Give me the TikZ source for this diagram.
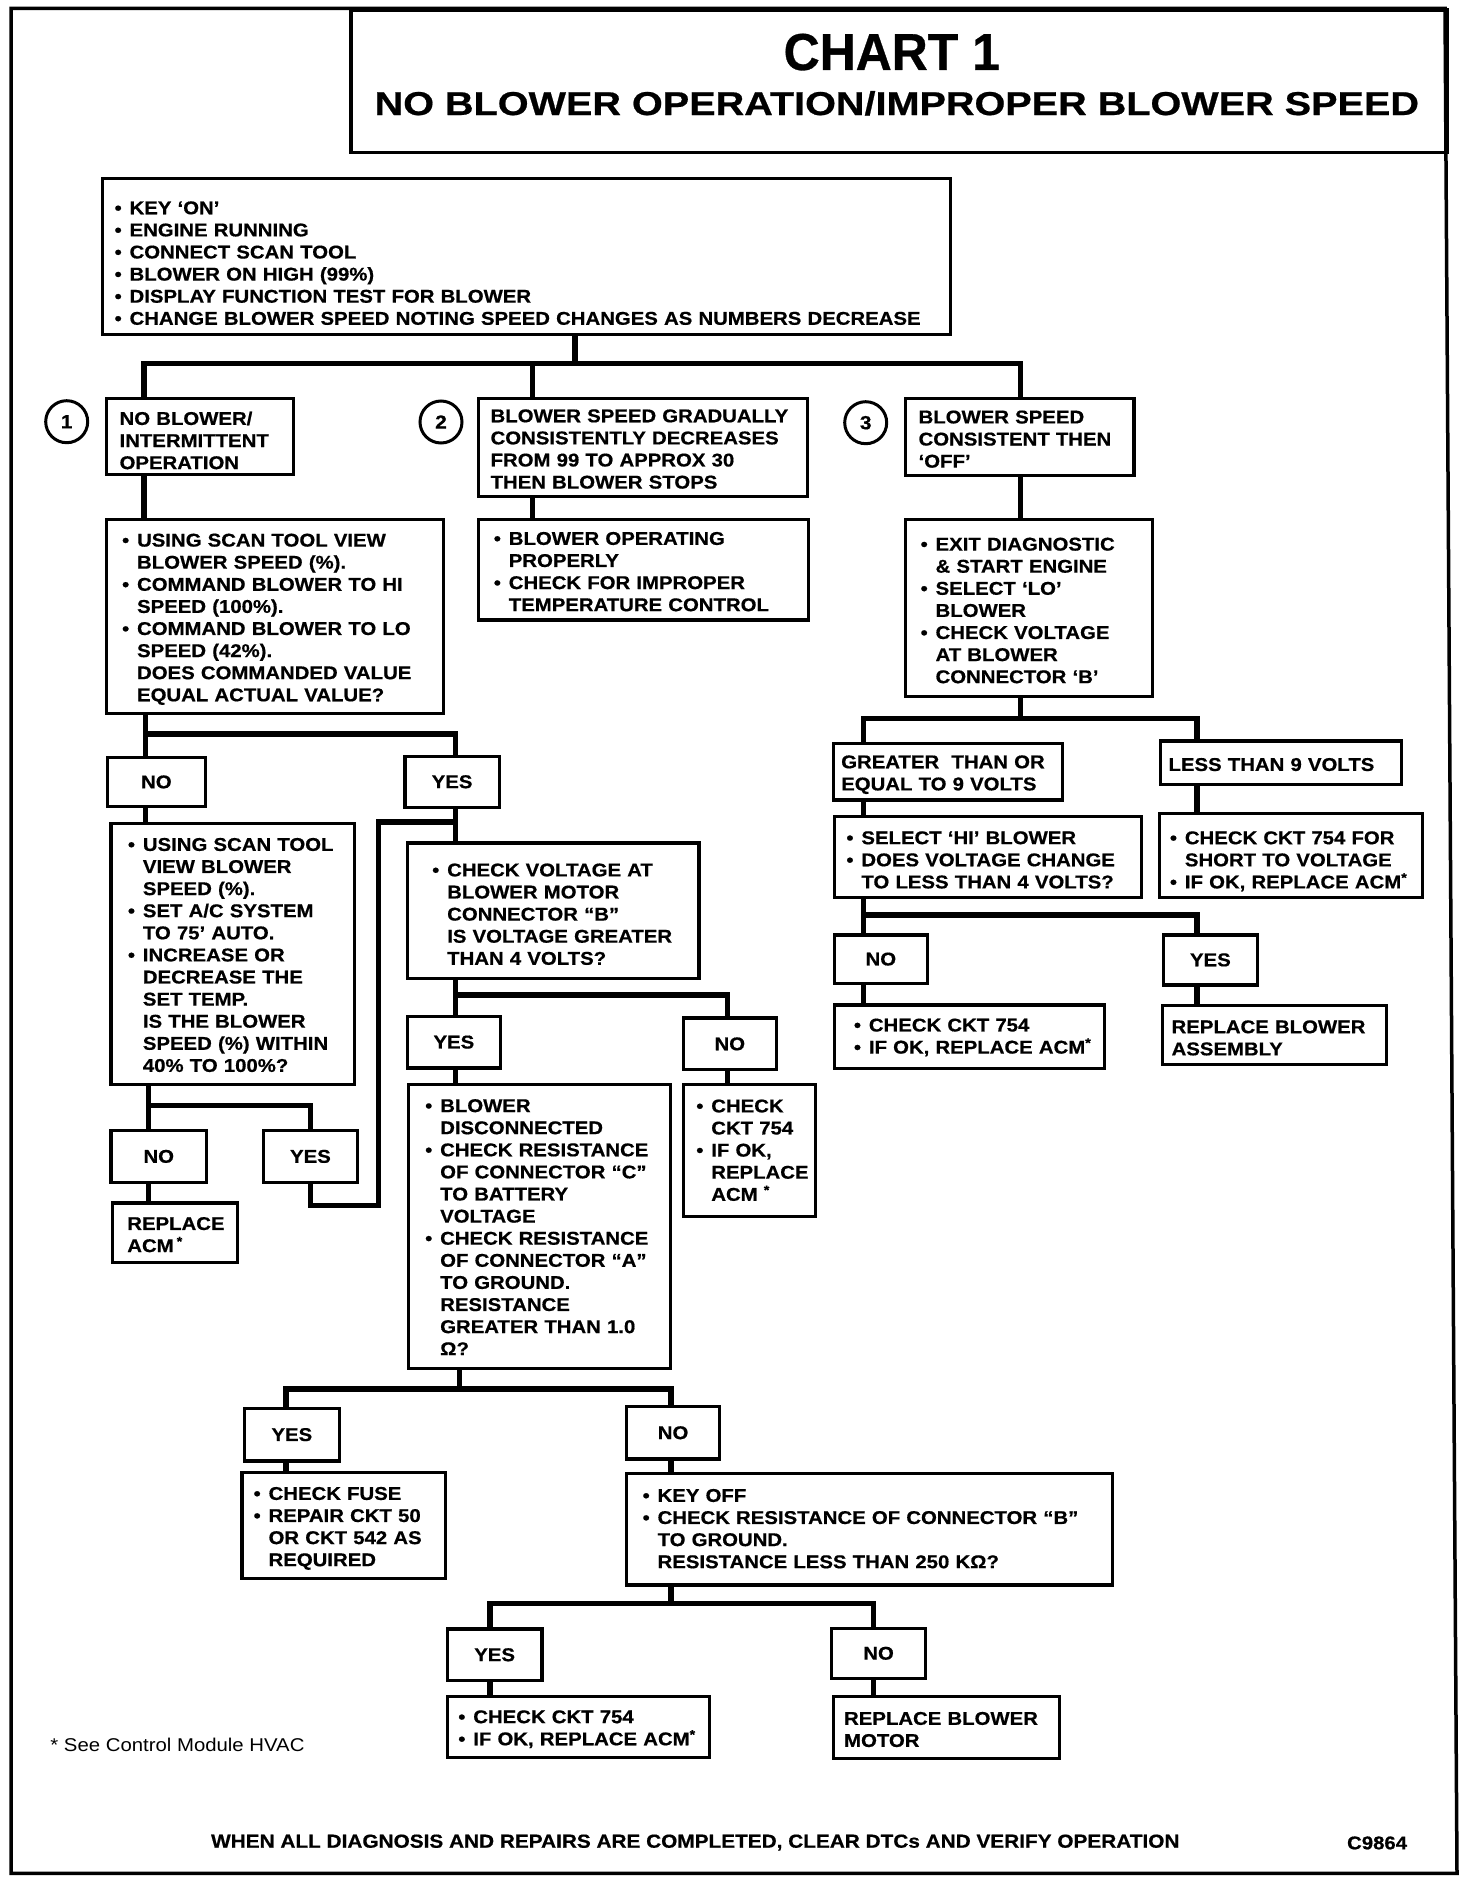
\documentclass[tikz,border=0pt]{standalone}
\usepackage{fontspec}
\setmainfont{Liberation Sans}[FakeStretch=1.1, BoldFeatures={FakeBold=0.6}]
\newfontfamily\chartfont{Liberation Sans}[FakeStretch=0.96, BoldFeatures={FakeBold=0.6}]
\newfontfamily\subfont{Liberation Sans}[FakeStretch=1.2, BoldFeatures={FakeBold=0.6}]
\newcommand\bodyfont{\bfseries\fontsize{18.5}{22.1}\selectfont}
\newcommand\bu{\makebox[15pt][l]{\textbullet}}
\newcommand\dnbox[2]{\raisebox{-#1pt}[\height][\depth]{#2}}
\newcommand\blk[2][4]{\dnbox{#1}{\begin{tabular}{@{}l@{}l@{}}#2\end{tabular}}}
\newcommand\pblk[2][4]{\dnbox{#1}{\begin{tabular}{@{}l@{}}#2\end{tabular}}}
\newcommand\sast{\textsuperscript{*}}
\tikzset{
  box/.style={draw, line width=3.2pt, rectangle, anchor=north west, inner ysep=0pt, align=left, font=\bodyfont},
  yn/.style={draw, line width=3.2pt, rectangle, anchor=north west, inner sep=0pt, align=center, font=\bodyfont},
  conn/.style={line width=5.5pt},
  num/.style={draw, circle, line width=3pt, minimum size=42pt, inner sep=0pt, font=\bfseries\fontsize{19}{19}\selectfont},
}
\begin{document}
\begin{tikzpicture}[x=1pt,y=-1pt]
\useasboundingbox (0,0) rectangle (1472,1884);
\fill[white] (0,0) rectangle (1472,1884);
% frame and title
\draw[line width=3.5pt] (11,8.5) -- (1445,8.5) -- (1457,1873.3) -- (11,1873.3) -- cycle;
\node[draw, line width=3.5pt, anchor=north west, minimum width=1096pt, minimum height=142.2pt, inner sep=0pt] (titlebox) at (349.2,8.5) {};
\node[anchor=base, font=\chartfont\bfseries\fontsize{52}{52}\selectfont] (chart) at (891.8,70) {CHART 1};
\node[anchor=base, font=\subfont\bfseries\fontsize{33}{33}\selectfont] (subtitle) at (896.8,115) {NO BLOWER OPERATION/IMPROPER BLOWER SPEED};

% boxes
\node[box, inner xsep=12pt, text width=824pt, minimum height=156pt] (start) at (101,177) {\blk[8.5]{\bu&KEY `ON'\\ \bu&ENGINE RUNNING\\ \bu&CONNECT SCAN TOOL\\ \bu&BLOWER ON HIGH (99\%)\\ \bu&DISPLAY FUNCTION TEST FOR BLOWER\\ \bu&CHANGE BLOWER SPEED NOTING SPEED CHANGES AS NUMBERS DECREASE}};

\node[num] (c1) at (66.7,421.7) {1};
\node[num] (c2) at (441,422) {2};
\node[num] (c3) at (865.7,422.7) {3};

\node[box, inner xsep=13pt, text width=161pt, minimum height=76pt] (b1) at (105,397) {\pblk[6]{NO BLOWER/\\INTERMITTENT\\OPERATION}};
\node[box, inner xsep=12pt, text width=305pt, minimum height=98pt] (b2) at (477,397) {\pblk[3.4]{BLOWER SPEED GRADUALLY\\CONSISTENTLY DECREASES\\FROM 99 TO APPROX 30\\THEN BLOWER STOPS}};
\node[box, inner xsep=13pt, text width=202.3pt, minimum height=77pt] (b3) at (904,397) {\pblk[4]{BLOWER SPEED\\CONSISTENT THEN\\`OFF'}};

\node[box, inner xsep=15.5pt, text width=305.7pt, minimum height=194pt] (b1b) at (105,517.7) {\blk[3.2]{\bu&USING SCAN TOOL VIEW\\&BLOWER SPEED (\%).\\ \bu&COMMAND BLOWER TO HI\\&SPEED (100\%).\\ \bu&COMMAND BLOWER TO LO\\&SPEED (42\%).\\&DOES COMMANDED VALUE\\&EQUAL ACTUAL VALUE?}};
\node[box, inner xsep=15.5pt, text width=299pt, minimum height=100.6pt] (b2b) at (476.7,517.7) {\blk[4]{\bu&BLOWER OPERATING\\&PROPERLY\\ \bu&CHECK FOR IMPROPER\\&TEMPERATURE CONTROL}};
\node[box, inner xsep=15pt, text width=216.7pt, minimum height=177.3pt] (b3b) at (904,517.7) {\blk[4.5]{\bu&EXIT DIAGNOSTIC\\&\& START ENGINE\\ \bu&SELECT `LO'\\&BLOWER\\ \bu&CHECK VOLTAGE\\&AT BLOWER\\&CONNECTOR `B'}};

\node[yn, minimum width=97.6pt, minimum height=49.3pt] (no1) at (106,755.7) {NO};
\node[yn, minimum width=94.4pt, minimum height=51.1pt] (yes1) at (403.3,754.6) {YES};

\node[box, inner xsep=17pt, text width=209.5pt, minimum height=260.7pt] (b1c) at (109.3,821.8) {\blk[3.2]{\bu&USING SCAN TOOL\\&VIEW BLOWER\\&SPEED (\%).\\ \bu&SET A/C SYSTEM\\&TO 75' AUTO.\\ \bu&INCREASE OR\\&DECREASE THE\\&SET TEMP.\\&IS THE BLOWER\\&SPEED (\%) WITHIN\\&40\% TO 100\%?}};
\node[box, inner xsep=25pt, text width=241.7pt, minimum height=135.7pt] (b1d) at (405.6,841.4) {\blk[5.3]{\bu&CHECK VOLTAGE AT\\&BLOWER MOTOR\\&CONNECTOR ``B''\\&IS VOLTAGE GREATER\\&THAN 4 VOLTS?}};

\node[yn, minimum width=93.4pt, minimum height=51.8pt] (yes2) at (405.6,1014.6) {YES};
\node[yn, minimum width=93pt, minimum height=51.8pt] (no2) at (681.7,1016.4) {NO};

\node[box, inner xsep=17pt, text width=228.4pt, minimum height=284.2pt] (b1e) at (406.6,1082.5) {\blk[3]{\bu&BLOWER\\&DISCONNECTED\\ \bu&CHECK RESISTANCE\\&OF CONNECTOR ``C''\\&TO BATTERY\\&VOLTAGE\\ \bu&CHECK RESISTANCE\\&OF CONNECTOR ``A''\\&TO GROUND.\\&RESISTANCE\\&GREATER THAN 1.0\\&Ω?}};
\node[box, inner xsep=13pt, text width=106.1pt, minimum height=132.1pt] (b1f) at (681.7,1082.5) {\blk[2]{\bu&CHECK\\&CKT 754\\ \bu&IF OK,\\&REPLACE\\&ACM \sast}};

\node[yn, minimum width=95.7pt, minimum height=51.8pt] (no3) at (109.3,1128.9) {NO};
\node[yn, minimum width=94.3pt, minimum height=51.8pt] (yes3) at (261.7,1128.9) {YES};
\node[box, inner xsep=15pt, text width=95pt, minimum height=59.6pt] (racm) at (110.7,1201.4) {\pblk[3.8]{REPLACE\\ACM\,\sast}};

\node[yn, minimum width=95.3pt, minimum height=52.6pt] (yes4) at (242.6,1406.7) {YES};
\node[yn, minimum width=93pt, minimum height=52.3pt] (no4) at (625,1405) {NO};
\node[box, inner xsep=11.7pt, text width=179.8pt, minimum height=106pt] (fuse) at (240.3,1470.7) {\blk[3.3]{\bu&CHECK FUSE\\ \bu&REPAIR CKT 50\\&OR CKT 542 AS\\&REQUIRED}};
\node[box, inner xsep=16pt, text width=454.2pt, minimum height=111.6pt] (keyoff) at (625,1471.7) {\blk[1.5]{\bu&KEY OFF\\ \bu&CHECK RESISTANCE OF CONNECTOR ``B''\\&TO GROUND.\\&RESISTANCE LESS THAN 250 KΩ?}};

\node[yn, minimum width=94.7pt, minimum height=51.7pt] (yes5) at (445.7,1627.3) {YES};
\node[yn, minimum width=93.9pt, minimum height=50pt] (no5) at (830,1626.7) {NO};
\node[box, inner xsep=11pt, text width=240.1pt, minimum height=61pt] (ckt1) at (445.7,1695) {\blk[2.7]{\bu&CHECK CKT 754\\ \bu&IF OK, REPLACE ACM\sast}};
\node[box, inner xsep=10.5pt, text width=205.1pt, minimum height=61.7pt] (rbm) at (832,1695) {\pblk[4]{REPLACE BLOWER\\MOTOR}};

\node[box, inner xsep=8pt, text width=213.6pt, minimum height=56.6pt] (b3c) at (831.6,741.7) {\pblk[3.3]{GREATER\ \ THAN OR\\EQUAL TO 9 VOLTS}};
\node[box, inner xsep=8pt, text width=225.1pt, minimum height=43.4pt] (b3d) at (1158.9,739.3) {\pblk[3.9]{LESS THAN 9 VOLTS}};
\node[box, inner xsep=12.3pt, text width=283.1pt, minimum height=80.7pt] (b3e) at (832.5,815) {\blk[4.9]{\bu&SELECT `HI' BLOWER\\ \bu&DOES VOLTAGE CHANGE\\&TO LESS THAN 4 VOLTS?}};
\node[box, inner xsep=10.7pt, text width=241.8pt, minimum height=84pt] (b3f) at (1157.6,811.7) {\blk[6.6]{\bu&CHECK CKT 754 FOR\\&SHORT TO VOLTAGE\\ \bu&IF OK, REPLACE ACM\sast}};
\node[yn, minimum width=93.5pt, minimum height=48.4pt] (no6) at (832.5,933.3) {NO};
\node[yn, minimum width=94pt, minimum height=50pt] (yes6) at (1161.8,933.3) {YES};
\node[box, inner xsep=19.8pt, text width=230.6pt, minimum height=63.4pt] (ckt2) at (832.5,1003.3) {\blk[1.5]{\bu&CHECK CKT 754\\ \bu&IF OK, REPLACE ACM\sast}};
\node[box, inner xsep=9pt, text width=205.7pt, minimum height=58.7pt] (rba) at (1161,1004) {\pblk[4.9]{REPLACE BLOWER\\ASSEMBLY}};

% footer texts
\node[anchor=base west, inner sep=0pt, font=\fontsize{18.5}{22}\selectfont] (note) at (50.2,1751.7) {* See Control Module HVAC};
\node[anchor=base, inner sep=0pt, font=\bfseries\fontsize{18.9}{22}\selectfont] (final) at (695.3,1847.7) {WHEN ALL DIAGNOSIS AND REPAIRS ARE COMPLETED, CLEAR DTCs AND VERIFY OPERATION};
\node[anchor=base west, inner sep=0pt, font=\bfseries\fontsize{18.5}{22}\selectfont] (code) at (1346.9,1849.3) {C9864};

% connectors
\coordinate (t1) at (575,363.3);
\coordinate (l1) at (144,363.3);
\coordinate (r1) at (1020.5,363.3);
\coordinate (m1) at (532.5,363.3);
\draw[conn] (start.south -| t1) -- (t1);
\draw[conn] (b1.north -| l1) -- (l1) -- (r1) -- (b3.north -| r1);
\draw[conn] (m1) -- (b2.north -| m1);
\draw[conn] (b1.south -| l1) -- (b1b.north -| l1);
\draw[conn] (b2.south -| m1) -- (b2b.north -| m1);
\draw[conn] (b3.south -| r1) -- (b3b.north -| r1);

\coordinate (l2) at (145.5,734);
\coordinate (r2) at (455.5,734);
\draw[conn] (b1b.south -| l2) -- (l2);
\draw[conn] (no1.north -| l2) -- (l2) -- (r2) -- (yes1.north -| r2);
\draw[conn] (no1.south -| l2) -- (b1c.north -| l2);
\draw[conn] (yes1.south -| r2) -- (b1d.north -| r2);

\coordinate (s1) at (455.5,821.8);
\coordinate (s2) at (378.3,821.8);
\coordinate (s3) at (378.3,1205.7);
\draw[conn] (s1) -- (s2) -- (s3) -| (yes3.south);

\coordinate (l3) at (148.4,1105.7);
\coordinate (r3) at (yes3.north |- l3);
\draw[conn] (b1c.south -| l3) -- (l3);
\draw[conn] (no3.north -| l3) -- (l3) -- (r3) -- (yes3.north);
\draw[conn] (no3.south -| l3) -- (racm.north -| l3);

\coordinate (l4) at (455.5,995);
\coordinate (r4) at (727.5,995);
\draw[conn] (b1d.south -| l4) -- (l4);
\draw[conn] (yes2.north -| l4) -- (l4) -- (r4) -- (no2.north -| r4);
\draw[conn] (yes2.south -| l4) -- (b1e.north -| l4);
\draw[conn] (no2.south -| r4) -- (b1f.north -| r4);

\coordinate (t5) at (459.6,1389);
\coordinate (l5) at (286,1389);
\coordinate (r5) at (671,1389);
\draw[conn] (b1e.south -| t5) -- (t5);
\draw[conn] (yes4.north -| l5) -- (l5) -- (r5) -- (no4.north -| r5);
\draw[conn] (yes4.south -| l5) -- (fuse.north -| l5);
\draw[conn] (no4.south -| r5) -- (keyoff.north -| r5);

\coordinate (t6) at (671,1603.3);
\coordinate (l6) at (490,1603.3);
\coordinate (r6) at (873.3,1603.3);
\draw[conn] (keyoff.south -| t6) -- (t6);
\draw[conn] (yes5.north -| l6) -- (l6) -- (r6) -- (no5.north -| r6);
\draw[conn] (yes5.south -| l6) -- (ckt1.north -| l6);
\draw[conn] (no5.south -| r6) -- (rbm.north -| r6);

\coordinate (t7) at (1020.7,718.3);
\coordinate (l7) at (863.7,718.3);
\coordinate (r7) at (1197,718.3);
\draw[conn] (b3b.south -| t7) -- (t7);
\draw[conn] (b3c.north -| l7) -- (l7) -- (r7) -- (b3d.north -| r7);
\draw[conn] (b3c.south -| l7) -- (b3e.north -| l7);
\draw[conn] (b3d.south -| r7) -- (b3f.north -| r7);

\coordinate (l8) at (863.7,915);
\coordinate (r8) at (1197,915);
\draw[conn] (b3e.south -| l8) -- (l8);
\draw[conn] (no6.north -| l8) -- (l8) -- (r8) -- (yes6.north -| r8);
\draw[conn] (no6.south -| l8) -- (ckt2.north -| l8);
\draw[conn] (yes6.south -| r8) -- (rba.north -| r8);
\end{tikzpicture}
\end{document}
